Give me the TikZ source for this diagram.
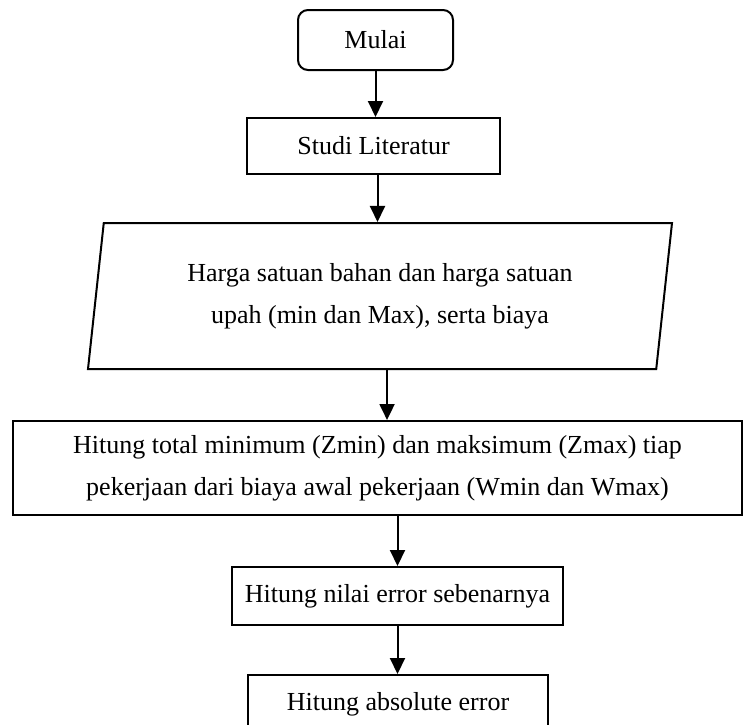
\documentclass[tikz,border=0pt]{standalone}
\usepackage{fontspec}
\setmainfont{Liberation Serif}
\usetikzlibrary{shapes.geometric,arrows.meta,positioning,calc}
\tikzset{
    block/.style = {draw, rectangle, line width=2pt,
        inner sep=0pt, align=center},
    startstop/.style = {block, rounded corners=10pt},
    io/.style = {draw, trapezium, trapezium left angle=76.5,
        trapezium right angle=103.5, trapezium stretches body=true,
        line width=2pt, inner sep=0pt, align=center},
    arrow/.style = {draw, line width=2pt, -{Triangle[width=15pt,length=16pt]}}
}

\begin{document}
\begin{tikzpicture}[x=1pt, y=-1pt, font=\fontsize{26}{42}\selectfont]
    \useasboundingbox (0,0) rectangle (752,724);
    \clip (0,0) rectangle (752,724);
    \node [startstop, minimum width=155, minimum height=60] (mulai) at (375.5,40) {Mulai};
    \node [block, minimum width=253, minimum height=56] (studi) at (373.5,146) {Studi Literatur};
    \node [io, minimum width=584, minimum height=146] (harga) at (380,296)
        {Harga satuan bahan dan harga satuan\\upah (min dan Max), serta biaya};
    \node [block, minimum width=729, minimum height=94] (total) at (377.5,468)
        {Hitung total minimum (Zmin) dan maksimum (Zmax) tiap\\pekerjaan dari biaya awal pekerjaan (Wmin dan Wmax)};
    \node [block, minimum width=331, minimum height=58] (nilai) at (397.5,596) {Hitung nilai error sebenarnya};
    \node [block, minimum width=300, minimum height=58] (absolut) at (398,704) {Hitung absolute error};
    % connectors
    \draw [arrow] (mulai.south) -- (mulai.south |- studi.north);
    \draw [arrow] ([xshift=4pt]studi.south) -- ([xshift=4pt]studi.south |- harga.north);
    \draw [arrow] ([xshift=7pt]harga.south) -- ([xshift=7pt]harga.south |- total.north);
    \draw [arrow] (nilai.north |- total.south) -- (nilai.north);
    \draw [arrow] (nilai.south) -- (nilai.south |- absolut.north);
\end{tikzpicture}
\end{document}
